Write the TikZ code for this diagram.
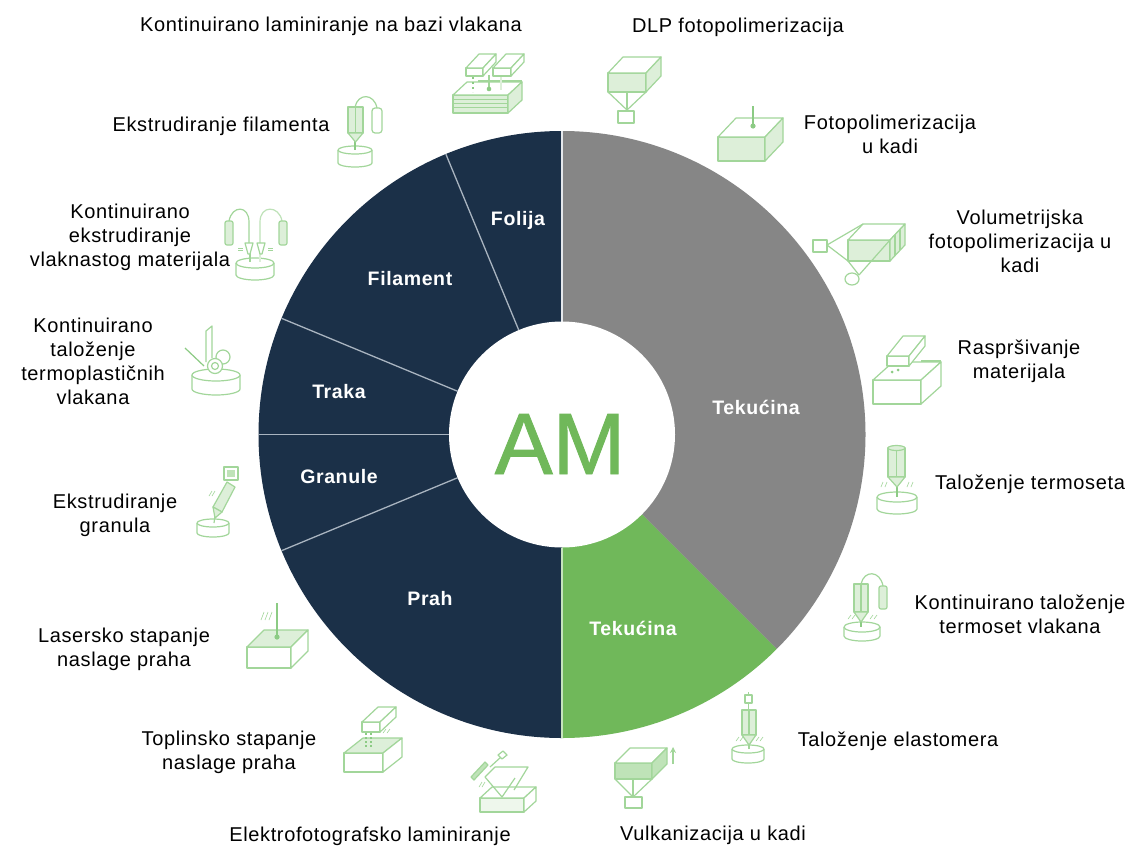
\documentclass[tikz,border=0pt]{standalone}
\usepackage{fontspec}
\usetikzlibrary{arrows.meta}
\setmainfont[LetterSpace=3.2]{Liberation Sans}
\newfontfamily\amfont[FakeBold=1]{Liberation Sans}
\definecolor{navy}{HTML}{1B3048}
\definecolor{greyseg}{HTML}{868686}
\definecolor{greenseg}{HTML}{70B85A}
\definecolor{ln}{HTML}{A2D69A}
\definecolor{lnd}{HTML}{8CCB84}
\definecolor{fa}{HTML}{DDEFD9}
\definecolor{fb}{HTML}{BFE3B8}
\definecolor{sepc}{HTML}{A9B4C0}
\tikzset{
  lab/.style={align=center,font=\fontsize{20}{24}\selectfont,text=black,inner sep=0pt},
  seg/.style={align=center,font=\fontsize{19.5}{24}\selectfont\bfseries,text=white,inner sep=0pt},
  ic/.style={draw=ln,line width=1.2pt,line join=round},
  sepl/.style={draw=sepc,line width=1.3pt}
}
% x y w h dx dy front top right
\newcommand{\cube}[9]{%
  \draw[ic,fill=#7] (#1,#2) rectangle ({#1+#3},{#2+#4});
  \draw[ic,fill=#8] (#1,#2) -- ({#1+#5},{#2-#6}) -- ({#1+#3+#5},{#2-#6}) -- ({#1+#3},#2) -- cycle;
  \draw[ic,fill=#9] ({#1+#3},#2) -- ({#1+#3+#5},{#2-#6}) -- ({#1+#3+#5},{#2-#6+#4}) -- ({#1+#3},{#2+#4}) -- cycle;
}
% cx cy rx ry bottom
\newcommand{\plate}[5]{%
  \draw[ic,fill=white] ({#1-#3},#2) -- ({#1-#3},{#5-#4}) arc[start angle=180,end angle=360,x radius=#3,y radius=-#4] -- ({#1+#3},#2);
  \draw[ic,fill=white] (#1,#2) ellipse[x radius=#3,y radius=#4];
}
% x1 y1 x2 y2 tipx tipy
\newcommand{\nozzle}[6]{%
  \draw[ic,fill=fa] (#1,#2) rectangle (#3,#4);
  \draw[ic,fill=fa] (#1,#4) -- (#5,#6) -- (#3,#4) -- cycle;
  \draw[ic] ({(#1+#3)/2},#2) -- ({(#1+#3)/2},#4);
}
\begin{document}
\begin{tikzpicture}[x=1pt,y=-1pt]
\useasboundingbox (0,0) rectangle (1131,846);
\fill[white] (0,0) rectangle (1131,846);
% pie
\begin{scope}[shift={(562,434.5)},y=1pt]
\def\R{303.5}
\fill[greyseg] (0,0) -- (90:\R) arc[start angle=90,end angle=-45,radius=\R] -- cycle;
\fill[greenseg] (0,0) -- (-45:\R) arc[start angle=-45,end angle=-90,radius=\R] -- cycle;
\fill[navy] (0,0) -- (-90:\R) arc[start angle=270,end angle=90,radius=\R] -- cycle;
\foreach \a in {112.5,157.5,180,202.5}{\draw[sepl] (\a:113) -- (\a:\R);}
\draw[sepl,draw=white!70!sepc] (90:113) -- (90:\R);
\draw[sepl,draw=white!60!greenseg] (-90:113) -- (-90:\R);
\fill[white] (0,0) circle[radius=113];
\end{scope}
\node[anchor=base,inner sep=0pt,text=greenseg,font=\fontsize{87}{87}\amfont] (am) at (560,474) {AM};
% segment labels
\node[seg] (s1) at (518,220) {Folija};
\node[seg] (s2) at (410,279) {Filament};
\node[seg] (s3) at (339,392) {Traka};
\node[seg] (s4) at (339,477) {Granule};
\node[seg] (s5) at (430,599) {Prah};
\node[seg] (s6) at (756,407) {Tekućina};
\node[seg] (s7) at (633,628) {Tekućina};
% labels
\node[lab] (l1) at (331,26.5) {Kontinuirano laminiranje na bazi vlakana};
\node[lab] (l2) at (738,27.5) {DLP fotopolimerizacija};
\node[lab] (l3) at (890,134.5) {Fotopolimerizacija\\u kadi};
\node[lab] (l4) at (1020,241) {Volumetrijska\\fotopolimerizacija u\\kadi};
\node[lab] (l5) at (1019,361.5) {Raspršivanje\\materijala};
\node[lab] (l6) at (1030,484.5) {Taloženje termoseta};
\node[lab] (l7) at (1020,614) {Kontinuirano taloženje\\termoset vlakana};
\node[lab] (l8) at (898,741.5) {Taloženje elastomera};
\node[lab] (l9) at (713,835.5) {Vulkanizacija u kadi};
\node[lab] (l10) at (370,836) {Elektrofotografsko laminiranje};
\node[lab] (l11) at (229,752.5) {Toplinsko stapanje\\naslage praha};
\node[lab] (l12) at (124,649.5) {Lasersko stapanje\\naslage praha};
\node[lab] (l13) at (115,515) {Ekstrudiranje\\granula};
\node[lab] (l14) at (93,361) {Kontinuirano\\taloženje\\termoplastičnih\\vlakana};
\node[lab] (l15) at (130,237) {Kontinuirano\\ekstrudiranje\\vlaknastog materijala};
\node[lab] (l16) at (221,126.5) {Ekstrudiranje filamenta};
% --- icons ---
% fibre lamination
\cube{453}{95}{55}{18}{14}{13}{fa}{white}{fa}
\foreach \yy in {99,103,107}{\draw[ic,line width=.5pt] (453,\yy) -- (508,\yy);}
\cube{466}{68}{17}{8}{13}{14}{white}{white}{white}
\cube{493}{68}{18}{8}{13}{14}{white}{white}{white}
\draw[ic,dash pattern=on 2pt off 3pt,draw=lnd,line width=1.4pt] (473,77) -- (473,92);
\draw[ic] (489,75) -- (489,88);
\fill[lnd] (489,89) circle[radius=2.3];
\draw[ic] (478,81) -- (522,81);
\draw[ic,draw=fa] (501,77) -- (501,90);
% DLP
\draw[ic] (608,92) -- (627,110) -- (646,92);
\draw[ic] (627,92) -- (627,110);
\cube{608}{73}{38}{19}{15}{16}{fa}{white}{fa}
\draw[ic,fill=white] (618,111) rectangle (634,123);
% vat photopolymerisation
\cube{718}{137}{47}{24}{18}{19}{fa}{white}{fa}
\draw[ic,draw=lnd] (753,106) -- (753,125);
\fill[lnd] (753,126) circle[radius=2.6];
% volumetric
\cube{848}{240}{42}{21}{15}{16}{fa}{white}{fa}
\draw[ic] (827,245) -- (863,224);
\draw[ic] (827,245) -- (848,261);
\draw[ic] (859,275) -- (848,261);
\draw[ic] (859,275) -- (890,240);
\draw[ic] (895,235) -- (895,256);
\draw[ic] (900,229) -- (900,250);
\draw[ic,fill=white] (813,240) rectangle (827,252);
\draw[ic,fill=white] (852,279) ellipse[x radius=7,y radius=6];
% material jetting
\cube{873}{380}{48}{24}{20}{18}{white}{white}{white}
\cube{887}{356}{22}{10}{16}{20}{white}{white}{white}
\draw[ic] (921,361) -- (941,361);
\fill[lnd] (892,372) circle[radius=1.5];
\fill[lnd] (898,370) circle[radius=1.5];
% thermoset deposition
\plate{897}{497}{20}{5}{514}
\draw[ic,draw=lnd] (897,484) -- (897,497);
\nozzle{888}{448}{905}{477}{897}{487}
\draw[ic,fill=fa] (896.5,448) ellipse[x radius=8.5,y radius=2.5];
\draw[ic,line width=.6pt] (881,487) -- (883,482) (885,487) -- (887,482) (907,487) -- (909,482) (911,487) -- (913,482);
% continuous thermoset fibre
\plate{862}{627}{18}{5}{641}
\draw[ic,draw=lnd,line width=2pt] (861,620) -- (861,627);
\nozzle{854}{584}{868}{612}{861}{622}
\draw[ic] (861,584) .. controls (864,570) and (880,570) .. (883,586);
\draw[ic,fill=fa,rounded corners=2pt] (879,586) rectangle (887,609);
\draw[ic,line width=.6pt] (848,619) -- (851,615) (852,619) -- (855,615) (870,619) -- (873,615) (874,619) -- (877,615);
% elastomer
\plate{748}{749}{16}{4}{763}
\draw[ic] (749,743) -- (749,749);
\nozzle{742}{710}{756}{735}{749}{745}
\draw[ic,fill=white] (745,695) rectangle (752,703);
\draw[ic] (748.5,703) -- (748.5,710) (748.5,695) -- (748.5,692);
\draw[ic,line width=.6pt] (736,741) -- (739,737) (740,741) -- (743,737) (756,741) -- (759,737) (760,741) -- (763,737);
% vat vulcanisation
\draw[ic] (615,779) -- (633,797) -- (652,779);
\draw[ic] (633,779) -- (633,797);
\cube{615}{763}{37}{16}{15}{15}{fb}{white}{fb}
\draw[ic,fill=white] (625,797) rectangle (642,808);
\draw[ic,-{Stealth[length=6pt,width=6pt]}] (673,764) -- (673,747);
% electrophotographic
\cube{480}{798}{44}{14}{12}{11}{fa!50}{white}{white}
\draw[ic] (485,777) -- (502,797) -- (515,778) (485,777) -- (495,767) -- (528,767) -- (514,790);
\draw[ic,fill=fb] (471,777) -- (485,762) -- (488,765) -- (474,780) -- cycle;
\draw[ic] (490,767) -- (501,757);
\draw[ic,fill=white] (498,755) -- (503,751) -- (507,755) -- (502,759) -- cycle;
\draw[ic,line width=.6pt] (479,787) -- (482,782) (482,787) -- (485,782);
% powder bed fusion (thermal)
\cube{344}{753}{39}{19}{19}{15}{white}{fa}{white}
\cube{362}{722}{18}{10}{16}{15}{white}{white}{white}
\draw[ic,draw=lnd,dash pattern=on 2pt off 2pt,line width=1.2pt] (366,733) -- (366,747) (371,733) -- (371,747);
\draw[ic,line width=.6pt] (383,733) -- (386,729) (387,733) -- (390,729);
% laser powder bed
\cube{247}{647}{44}{21}{17}{17}{white}{fa}{white}
\draw[ic,draw=lnd] (277,603) -- (277,636);
\fill[lnd] (277,637) circle[radius=2.6];
\draw[ic,line width=.6pt] (261,620) -- (264,612) (265,620) -- (268,612) (269,620) -- (272,612);
% granule
\plate{213}{523}{16}{4}{537}
\draw[ic] (215,516) -- (214,523);
\draw[ic,fill=fa] (227,482) -- (235,487) -- (222,512) -- (213,507) -- cycle;
\draw[ic,fill=fa] (222,512) -- (213,507) -- (215,518) -- cycle;
\draw[ic,fill=white] (224,467) rectangle (238,480);
\fill[fb] (227,470) rectangle (235,477);
\draw[ic,line width=.6pt] (209,496) -- (212,491) (212,496) -- (215,491);
% thermoplastic tape
\plate{216}{375}{24}{6}{395}
\draw[ic,fill=white] (206,362) -- (206,331) -- (212,326) -- (212,358);
\draw[ic,fill=white] (223,357) circle[radius=7];
\draw[ic,fill=white] (215,366) circle[radius=7.5];
\draw[ic] (215,366) circle[radius=3.5];
\draw[ic,draw=lnd] (185,348) -- (204,366);
% continuous fibre extrusion
\plate{255}{263}{19}{5}{280}
\draw[ic] (250,253) -- (250,262);
\draw[ic,draw=fa] (260,253) -- (260,262);
\draw[ic] (229,221) .. controls (232,205) and (249,205) .. (249,222) -- (249,243);
\draw[ic,draw=ln!70] (260,243) -- (260,222) .. controls (260,205) and (279,205) .. (282,221);
\draw[ic,fill=fa,rounded corners=2pt] (225,221) rectangle (233,245);
\draw[ic,fill=fa,rounded corners=2pt] (279,221) rectangle (287,245);
\draw[ic,fill=white] (245,243) -- (253,243) -- (250,254) -- (248,254) -- cycle;
\draw[ic,fill=white] (257,243) -- (265,243) -- (262,254) -- (260,254) -- cycle;
\draw[ic,line width=.6pt] (238,248) -- (243,248) (238,250) -- (243,250) (268,248) -- (273,248) (268,250) -- (273,250);
% filament extrusion
\plate{355}{150}{17}{4}{167}
\draw[ic,draw=lnd,line width=1.5pt] (355,140) -- (355,150);
\nozzle{348}{107}{363}{133}{355.5}{142}
\draw[ic] (355,107) .. controls (358,93) and (374,93) .. (377,108);
\draw[ic,fill=white,rounded corners=3pt] (372,108) rectangle (382,133);
\end{tikzpicture}
\end{document}
